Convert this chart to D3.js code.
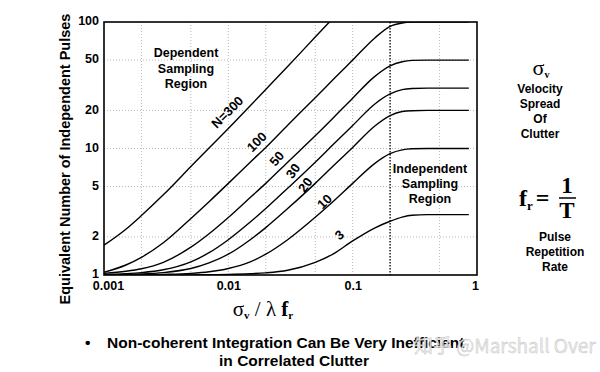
<!DOCTYPE html>
<html>
<head>
<meta charset="utf-8">
<script src="https://cdn.jsdelivr.net/npm/d3@7"></script>
<style>
body { margin: 0; background: #fff; }
svg { display: block; }
text { font-family: "Liberation Sans", Arial, sans-serif; font-weight: bold; fill: #000; }
.serif { font-family: "Liberation Serif", "Times New Roman", serif; }
</style>
</head>
<body>
<script>
var w = 600;
var h = 372;

// sigma_v / (lambda * fr) sample points
var ratio = [0.001, 0.0015, 0.002, 0.003, 0.005, 0.007, 0.01, 0.015, 0.02, 0.03, 0.05, 0.07, 0.1, 0.15, 0.2, 0.25, 0.3, 0.4, 0.5, 0.86];

// equivalent number of independent pulses, one list per N
var n300 = [1.72, 2.3, 2.95, 4.3, 7.2, 10.1, 14.4, 21.8, 29.3, 44.5, 76, 108, null, null, null, null, null, null, null, null];
var n100 = [1.05, 1.2, 1.38, 1.8, 2.8, 3.8, 5.3, 7.8, 10.2, 15.3, 25.2, 35.2, 50, 74.5, 92.5, 98.3, 99.7, 100, 100, 100];
var n50  = [1.03, 1.07, 1.12, 1.26, 1.66, 2.12, 2.85, 4.1, 5.3, 7.8, 12.6, 17.5, 25, 37, 45, 48.5, 49.7, 50, 50, 50];
var n30  = [1.01, 1.025, 1.045, 1.1, 1.27, 1.5, 1.9, 2.62, 3.35, 4.85, 7.8, 10.8, 15.2, 22.4, 27, 29.2, 29.8, 30, 30, 30];
var n20  = [1.005, 1.012, 1.02, 1.045, 1.125, 1.245, 1.46, 1.9, 2.37, 3.35, 5.3, 7.3, 10.2, 15, 18.2, 19.6, 19.9, 20, 20, 20];
var n10  = [1, 1.002, 1.005, 1.012, 1.03, 1.06, 1.125, 1.27, 1.46, 1.9, 2.86, 3.83, 5.3, 7.6, 9.1, 9.75, 9.95, 10, 10, 10];
var n3   = [1, 1, 1, 1, 1.003, 1.005, 1.01, 1.023, 1.04, 1.09, 1.26, 1.47, 1.86, 2.35, 2.66, 2.87, 2.97, 3, 3, 3];

var curveNames = ["N=300", "100", "50", "30", "20", "10", "3"];
var curveVals = [n300, n100, n50, n30, n20, n10, n3];
// where each curve label sits (ratio, pulses) and its tilt
var labelX = [0.0098, 0.0169, 0.0245, 0.0331, 0.0415, 0.0593, 0.078];
var labelY = [19.4, 11.3, 8.34, 6.64, 5.15, 3.81, 2.07];
var labelAngle = [-45, -45, -50, -55, -55, -45, -40];

var xTicks = [0.001, 0.01, 0.1, 1];
var xTickText = ["0.001", "0.01", "0.1", "1"];
var yTicks = [1, 2, 5, 10, 20, 50, 100];
var xGrid = [0.002, 0.005, 0.01, 0.02, 0.05, 0.1, 0.5];
var yGrid = [2, 5, 10, 20, 50];
var boundary = 0.2;

var margin = {left: 104, right: 123, top: 22, bottom: 97};
var pw = w - margin.left - margin.right;
var ph = h - margin.top - margin.bottom;

var svg = d3.select("body").append("svg").attr("width", w).attr("height", h);

var x = d3.scaleLog().domain([0.001, 1]).range([margin.left, margin.left + pw]);
var y = d3.scaleLog().domain([1, 100]).range([margin.top + ph, margin.top]);

svg.append("clipPath").attr("id", "plotclip")
   .append("rect")
   .attr("x", margin.left).attr("y", margin.top)
   .attr("width", pw).attr("height", ph);

// grid
svg.append("g").selectAll("line")
   .data(xGrid).enter().append("line")
   .attr("x1", function(d){ return x(d); }).attr("x2", function(d){ return x(d); })
   .attr("y1", margin.top).attr("y2", margin.top + ph)
   .attr("stroke", "#b8b8b8").attr("stroke-width", 1).attr("stroke-dasharray", "1,2");

svg.append("g").selectAll("line")
   .data(yGrid).enter().append("line")
   .attr("y1", function(d){ return y(d); }).attr("y2", function(d){ return y(d); })
   .attr("x1", margin.left).attr("x2", margin.left + pw)
   .attr("stroke", "#b8b8b8").attr("stroke-width", 1).attr("stroke-dasharray", "1,2");

// boundary between dependent and independent sampling
svg.append("line")
   .attr("x1", x(boundary)).attr("x2", x(boundary))
   .attr("y1", margin.top).attr("y2", margin.top + ph)
   .attr("stroke", "#000").attr("stroke-width", 1.3).attr("stroke-dasharray", "1.5,1.5");

// curves
var line = d3.line()
   .defined(function(d){ return d[1] != null; })
   .x(function(d){ return x(d[0]); })
   .y(function(d){ return y(d[1]); })
   .curve(d3.curveMonotoneX);

svg.append("g").attr("clip-path", "url(#plotclip)")
   .selectAll("path")
   .data(curveVals).enter().append("path")
   .attr("d", function(vals){
     return line(ratio.map(function(r, i){ return [r, vals[i]]; }));
   })
   .attr("fill", "none").attr("stroke", "#000").attr("stroke-width", 1.4);

// frame
svg.append("rect")
   .attr("x", margin.left).attr("y", margin.top)
   .attr("width", pw).attr("height", ph)
   .attr("fill", "none").attr("stroke", "#000").attr("stroke-width", 1.6);

// curve labels
svg.append("g").selectAll("text")
   .data(curveNames).enter().append("text")
   .attr("transform", function(d, i){
     return "translate(" + x(labelX[i]) + "," + y(labelY[i]) + ") rotate(" + labelAngle[i] + ")";
   })
   .attr("text-anchor", "middle").attr("dy", "0.35em")
   .attr("font-size", 13)
   .text(function(d){ return d; });

// axes
var xAxis = d3.axisBottom(x).tickValues(xTicks).tickSize(0).tickPadding(6)
   .tickFormat(function(d, i){ return xTickText[i]; });
var gx = svg.append("g").attr("transform", "translate(0," + (margin.top + ph) + ")").call(xAxis);
gx.select(".domain").remove();
gx.selectAll("text").attr("font-size", 12.5).attr("font-family", null).style("font-weight", "bold")
   .attr("dx", function(d, i){ return i === 0 ? 4 : (i === xTicks.length - 1 ? -2 : 0); });

var yAxis = d3.axisLeft(y).tickValues(yTicks).tickSize(0).tickPadding(5)
   .tickFormat(d3.format("d"));
var gy = svg.append("g").attr("transform", "translate(" + margin.left + ",0)").call(yAxis);
gy.select(".domain").remove();
gy.selectAll("text").attr("font-size", 12.5).attr("dy", "0.22em")
   .attr("font-family", null).style("font-weight", "bold");

// y title
svg.append("text")
   .attr("transform", "translate(70,159) rotate(-90)")
   .attr("text-anchor", "middle")
   .attr("font-size", 14.5)
   .text("Equivalent Number of Independent Pulses");

// x title
var xt = svg.append("text").attr("class", "serif")
   .attr("x", 263).attr("y", 316).attr("text-anchor", "middle")
   .style("font-weight", "normal").attr("font-size", 21);
xt.append("tspan").text("σ");
xt.append("tspan").attr("font-size", 11).attr("dy", 3).style("font-weight", "bold").text("v");
xt.append("tspan").attr("dy", -3).text(" / λ ");
xt.append("tspan").style("font-weight", "bold").text("f");
xt.append("tspan").attr("font-size", 11).attr("dy", 3).style("font-weight", "bold").text("r");

// region notes
var depLines = ["Dependent", "Sampling", "Region"];
svg.append("g").selectAll("text")
   .data(depLines).enter().append("text")
   .attr("x", 186).attr("y", function(d, i){ return 57 + i * 15.5; })
   .attr("text-anchor", "middle").attr("font-size", 12.5)
   .text(function(d){ return d; });

var indLines = ["Independent", "Sampling", "Region"];
svg.append("g").selectAll("text")
   .data(indLines).enter().append("text")
   .attr("x", 430).attr("y", function(d, i){ return 173 + i * 15; })
   .attr("text-anchor", "middle").attr("font-size", 12.5)
   .text(function(d){ return d; });

// side notes
var sv = svg.append("text").attr("class", "serif")
   .attr("x", 541).attr("y", 75).attr("text-anchor", "middle")
   .style("font-weight", "normal").attr("font-size", 22);
sv.append("tspan").text("σ");
sv.append("tspan").attr("font-size", 10).attr("dy", 3).style("font-weight", "bold").text("v");

var velLines = ["Velocity", "Spread", "Of", "Clutter"];
svg.append("g").selectAll("text")
   .data(velLines).enter().append("text")
   .attr("x", 540).attr("y", function(d, i){ return 93 + i * 15; })
   .attr("text-anchor", "middle").attr("font-size", 12)
   .text(function(d){ return d; });

var fr = svg.append("text").attr("class", "serif")
   .attr("x", 519).attr("y", 206).attr("font-size", 24);
fr.append("tspan").text("f");
fr.append("tspan").attr("font-size", 13).attr("dy", 4).text("r");
fr.append("tspan").attr("dy", -4).attr("dx", 3).text("=");
svg.append("text").attr("class", "serif")
   .attr("x", 567).attr("y", 193).attr("text-anchor", "middle").attr("font-size", 23).text("1");
svg.append("line")
   .attr("x1", 559).attr("x2", 576).attr("y1", 198).attr("y2", 198)
   .attr("stroke", "#000").attr("stroke-width", 1.5);
svg.append("text").attr("class", "serif")
   .attr("x", 567).attr("y", 218).attr("text-anchor", "middle").attr("font-size", 23).text("T");

var prfLines = ["Pulse", "Repetition", "Rate"];
svg.append("g").selectAll("text")
   .data(prfLines).enter().append("text")
   .attr("x", 555).attr("y", function(d, i){ return 241 + i * 15; })
   .attr("text-anchor", "middle").attr("font-size", 12)
   .text(function(d){ return d; });

// bottom note
svg.append("text").attr("x", 85).attr("y", 348).attr("font-size", 15.5).text("•");
svg.append("text").attr("x", 107).attr("y", 348).attr("font-size", 15.5)
   .text("Non-coherent Integration Can Be Very Inefficient");
svg.append("text").attr("x", 294).attr("y", 366).attr("text-anchor", "middle").attr("font-size", 15.5)
   .text("in Correlated Clutter");

// watermark
svg.append("text")
   .attr("x", 414).attr("y", 353)
   .attr("font-size", 19)
   .style("font-weight", "normal")
   .style("font-family", "'Noto Sans CJK SC', 'Noto Sans', sans-serif")
   .style("fill", "rgba(232,232,232,0.9)")
   .style("stroke", "#c4c4c4").style("stroke-width", 0.4)
   .text("知乎 @Marshall Over");
</script>
</body>
</html>
